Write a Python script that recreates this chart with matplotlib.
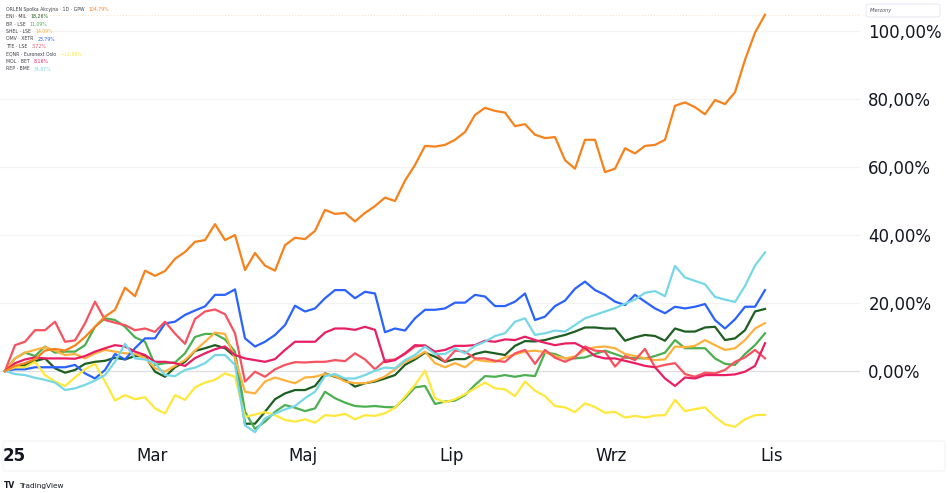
"""
Comparison chart: ORLEN vs. European oil majors, percent change since 2025 start.
Redrawn in the TradingView "compare" style.
"""

import matplotlib

matplotlib.use("Agg")

import matplotlib.pyplot as plt
import numpy as np
from matplotlib.patches import FancyBboxPatch
from matplotlib.ticker import FuncFormatter

FIG_W, FIG_H, DPI = 948, 493, 100

# --- data: percent change, sampled every few sessions (Jan 2025 -> end Oct 2025) ---
orlen = [0, 1.5, 2.3, 3.5, 6.0, 6.5, 6.0, 7.5, 10, 13,
         16, 18, 24.5, 22, 29.5, 28, 29.4, 33, 35, 38,
         38.5, 43.2, 38.5, 40, 29.7, 34.7, 31, 29.5, 37, 39.2,
         38.8, 41.2, 47.4, 46.2, 46.5, 44, 46.5, 48.5, 51, 50,
         56, 60.6, 66.2, 66, 66.5, 68, 70.3, 75.3, 77.4, 76.5,
         76, 72, 72.6, 69.5, 68.5, 68.8, 62, 59.5, 68, 68,
         58.5, 59.5, 65.5, 64, 66.2, 66.5, 68, 78, 79, 77.6,
         75.5, 79.7, 78.5, 82, 91.5, 99.5, 104.79]

eni = [0, 1.1, 1.7, 2.9, 3.7, 0.8, -0.5, 0.3, 2.1, 2.7,
       3, 3.9, 3.4, 4.4, 4.4, -0.2, -1.7, 1.1, 2.7, 5.9,
       6.7, 7.6, 6.7, 4.2, -15.5, -15.5, -12, -8.3, -6.6, -5.6,
       -5.6, -4.4, -0.7, -1.7, -2.6, -4.6, -3.6, -3.1, -2.2, -1.2,
       1.8, 3.4, 5.4, 4.2, 2.7, 3.5, 3.5, 5, 5.7, 5.2,
       4.7, 7.4, 8.8, 8.7, 9.1, 9.9, 10.6, 11.6, 12.8, 12.8,
       12.5, 12.5, 8.9, 9.9, 10.6, 10.3, 8.9, 12.5, 11.6, 11.6,
       12.8, 13, 9.1, 9.6, 12, 17.5, 18.26]

bp = [0, 3.7, 5.4, 4.4, 7.2, 5.4, 5.7, 5.7, 7.6, 13,
      15.5, 15, 13, 9.9, 8.6, 1.8, 2.3, 2.5, 5.2, 10,
      10.9, 10.9, 9.3, 5.7, -12, -17, -14.9, -12, -10, -10.8,
      -11.8, -11, -6.1, -8, -9.3, -10.3, -10.5, -10.3, -10.6, -10.7,
      -8, -4.8, -4.4, -9.7, -9, -8.7, -7.1, -4.1, -1.5, -1.7,
      -1.2, -1.7, -1.2, -1.5, 5.4, 5, 3.7, 3.7, 4, 5,
      6, 5, 3.9, 3.8, 3.7, 4.4, 5.4, 9.1, 6.7, 6.7,
      6.7, 3.7, 2.1, 1.8, 5, 7.6, 11.09]

shel = [0, 3.7, 5.4, 6.2, 7, 6, 4.7, 5, 3.7, 5.2,
        6.2, 5.7, 5.2, 5, 3.9, 0.8, -0.2, 1.5, 3.2, 6,
        8.6, 11.3, 10.9, 3.7, -6.1, -6.6, -3.1, -1.9, -2.8, -3.6,
        -1.9, -1.7, -0.9, -1.5, -3.1, -3.6, -3.6, -2.8, -1.6, 0.5,
        2.7, 3.9, 5.7, 2.3, 1.1, 2.3, 1.1, 3.4, 2.9, 2.7,
        4, 4.9, 5.7, 6, 5.5, 4.4, 3.7, 4.3, 6.2, 7,
        7.2, 6.7, 5, 4.4, 3.7, 3.2, 3.4, 7.2, 7, 7.4,
        9.1, 7.6, 6.2, 6.7, 9.1, 12.5, 14.09]

omv = [0, 0.5, 0.5, 1.1, 1.1, 1.1, 1.1, 1.8, -0.7, -2.2,
       0.3, 5, 3.4, 6.7, 9.6, 9.6, 14, 14.5, 16.5, 17.8,
       19, 22.4, 22.4, 24, 9.6, 7.2, 8.6, 10.6, 13.5, 19.2,
       17.5, 18.4, 21.4, 23.8, 23.8, 21.4, 23.3, 22.8, 11.4, 12.5,
       11.9, 15.5, 18, 18, 18.4, 20.1, 20.1, 22.4, 21.9, 19.1,
       19.1, 20.4, 22.8, 15, 16, 19.1, 20.7, 24.2, 26.3, 23.8,
       22.4, 20.4, 19.4, 22.4, 20.4, 18.4, 17, 18.9, 18.4, 18.9,
       19.7, 15, 12.5, 15.2, 18.9, 18.9, 23.79]

tte = [0, 7.6, 8.6, 12, 12, 14.5, 8.6, 9, 14, 20.4,
       15, 14.2, 13.5, 12, 12.5, 11.5, 14.5, 11, 8, 15.3,
       17.5, 18.1, 16.7, 11.1, -3.1, -0.2, -1.7, 0.5, 1.8, 2.6,
       2.5, 2.7, 2.7, 3.2, 2.9, 5.2, 3.4, 0.5, 3.1, 3.4,
       5, 7.2, 7.6, 5.4, 2.7, 6, 5.7, 3.7, 3.7, 3,
       2.7, 5.2, 6.2, 2.1, 6.2, 3.9, 2.7, 4, 7.2, 6,
       5.7, 1.3, 4.4, 3.2, 6.5, 1.1, 1.8, 2.3, -0.9, -1.7,
       -0.5, -0.7, 0.3, 2.7, 4, 6.2, 3.72]

eqnr = [0, 1.1, 1.1, 2.7, -1.2, -3.1, -4.4, -1.9, 0.5, 2.1,
        -3.1, -8.7, -7.1, -8.3, -7.7, -11, -12.5, -7.1, -8.5, -4.8,
        -3.4, -2.6, -0.7, -1.7, -13.5, -12.8, -12.1, -13, -14.4, -14.9,
        -14.2, -15.2, -13, -13.2, -12.6, -14.2, -13, -13.2, -12.4, -10.8,
        -7.5, -4.1, 0.1, -8, -9.2, -8.3, -6.8, -5.1, -3.4, -5.1,
        -5.4, -7.4, -3.1, -5.8, -7.4, -10.3, -10.7, -12.1, -9.5, -10.6,
        -12.3, -12, -13.7, -13.2, -13.7, -13.1, -13, -8.5, -11.8, -11.2,
        -10.7, -13.5, -15.7, -16.4, -14.2, -13, -12.89]

mol = [0, 2.3, 3.4, 4, 3.7, 3.7, 3.7, 3.6, 4.4, 5.7,
       6.7, 7.6, 7.2, 5.7, 4.7, 2.7, 2.7, 2.3, 1.5, 3.8,
       5.2, 6.4, 7.2, 4.7, 3.7, 3.2, 2.7, 3.5, 6.2, 8.6,
       8.6, 8.6, 11.3, 12.5, 12.5, 12.1, 13, 12.1, 2.6, 3.2,
       5.2, 7.6, 7.4, 5.7, 6.2, 7.4, 7.4, 7.6, 8.9, 8.6,
       9.3, 9.1, 10.1, 9.1, 8.3, 7.6, 8.1, 8.2, 6.7, 4.4,
       3.7, 3.7, 3, 2.3, 1.5, 1.1, -2.2, -4.4, -1.9, -2.2,
       -1.2, -1.2, -1.2, -1, -0.2, 1.5, 8.16]

rep = [0, -0.9, -1.2, -2, -2.6, -3.4, -5.6, -5.1, -4.1, -2.8,
       -1.2, 2.7, 8, 3.7, 3.4, 2.3, -1.2, -1.5, 0.3, 1,
       2.3, 4.7, 4.7, 1.8, -16, -18, -13.9, -12.5, -11.3, -10.3,
       -8, -6.1, -1.5, -0.9, -2.2, -2.2, -1.2, 0.1, 1, 0.8,
       3.2, 4.7, 7.2, 5, 5, 6.7, 5.2, 7.4, 8.6, 10.3,
       11.1, 14.5, 15.5, 10.6, 11.1, 11.9, 11.6, 13.5, 15.5, 16.5,
       17.5, 18.5, 19.8, 21, 23, 23.5, 22, 30.9, 27.5, 26.5,
       25.5, 21.8, 21, 20.3, 25, 31, 34.87]

legend_names = [
    "ORLEN Spolka Akcyjna \u00b7 1D \u00b7 GPW",
    "ENI \u00b7 MIL",
    "BP. \u00b7 LSE",
    "SHEL \u00b7 LSE",
    "OMV \u00b7 XETR",
    "TTE \u00b7 LSE",
    "EQNR \u00b7 Euronext Oslo",
    "MOL \u00b7 BET",
    "REP \u00b7 BME",
]
series = [orlen, eni, bp, shel, omv, tte, eqnr, mol, rep]
colors = ["#F7821B", "#1E5E20", "#4CAF50", "#FFB13D", "#2962FF",
          "#F7525F", "#FFE83B", "#E91E63", "#76D8E6"]

month_labels = ["25", "Mar", "Maj", "Lip", "Wrz", "Lis"]
month_ticks = [0.9, 14.7, 29.8, 44.7, 60.6, 76.7]
y_ticks = [0, 20, 40, 60, 80, 100]


def px_x(x: float) -> float:
    return x / FIG_W


def px_y(y: float) -> float:
    return 1 - y / FIG_H


def pct_label(v: float, _pos=None) -> str:
    return f"{v:.2f}%".replace(".", ",")


fig = plt.figure(figsize=(FIG_W / DPI, FIG_H / DPI), dpi=DPI, facecolor="white")
ax = fig.add_axes([0, px_y(440), px_x(860), 440 / FIG_H])

x = np.arange(len(orlen))

for level in y_ticks:
    ax.axhline(level, color="#dedede" if level == 0 else "#f3f3f3", lw=0.9, zorder=0)

# faint last-price line of the main symbol
ax.axhline(orlen[-1], color="#F7821B", lw=0.7, ls=(0, (1, 2)), alpha=0.25, zorder=0)

# compare symbols first, main symbol on top
for values, color in list(zip(series, colors))[1:]:
    ax.plot(x, values, color=color, lw=1.6, solid_joinstyle="round", zorder=2)
ax.plot(x, orlen, color=colors[0], lw=1.6, solid_joinstyle="round", zorder=3)

ax.set_xlim(-0.5, 85.5)
ax.set_ylim((371 - 440) / 3.4, 371 / 3.4)

ax.yaxis.tick_right()
ax.set_yticks(y_ticks)
ax.yaxis.set_major_formatter(FuncFormatter(pct_label))
ax.tick_params(axis="y", length=0, pad=6, labelsize=12, labelcolor="#131722")

ax.set_xticks(month_ticks, month_labels)
ax.tick_params(axis="x", length=0, pad=5, labelsize=12, labelcolor="#131722")
ax.get_xticklabels()[0].set_fontweight("bold")

for side in ("top", "bottom", "left", "right"):
    ax.spines[side].set_visible(False)

# legend block (top left)
for k, (name, values, color) in enumerate(zip(legend_names, series, colors)):
    ypos = px_y(9 + 7.5 * k)
    label = fig.text(px_x(6), ypos, name, fontsize=3.3, color="#3c3f48", va="center")
    ax.annotate(pct_label(values[-1]).replace("-", "\u2212"), xy=(1, 0.5),
                xycoords=label, xytext=(3, 0), textcoords="offset points",
                fontsize=3.3, color=color, va="center", ha="left",
                annotation_clip=False)

# "Mierzony" (scale mode) box, top right
box = FancyBboxPatch((px_x(866), px_y(17)), px_x(74), 13 / FIG_H,
                     boxstyle="round,pad=0,rounding_size=0.004",
                     transform=fig.transFigure, facecolor="white",
                     edgecolor="#e0e3eb", lw=0.6)
fig.patches.append(box)
fig.text(px_x(870), px_y(10.5), "Mierzony", fontsize=3.5, style="italic",
         color="#50535e", va="center")

# time-axis frame
frame = FancyBboxPatch((px_x(3), px_y(471)), px_x(942), 30 / FIG_H,
                       boxstyle="round,pad=0,rounding_size=0.004",
                       transform=fig.transFigure, facecolor="none",
                       edgecolor="#f3f4f6", lw=0.8)
fig.patches.append(frame)

# TradingView mark
fig.text(px_x(4), px_y(486), "TV", fontsize=5.5, fontweight="bold", color="#131722", va="center")
fig.text(px_x(19), px_y(486), "TradingView", fontsize=5.3, color="#131722", va="center")

fig.savefig("out.png", dpi=DPI, facecolor="white")
